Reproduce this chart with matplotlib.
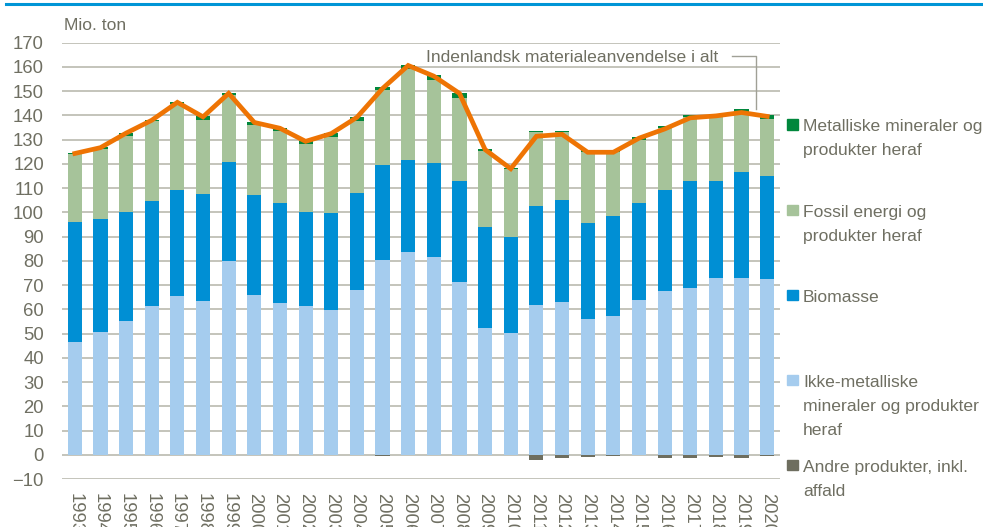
import matplotlib
matplotlib.use("Agg")
import matplotlib.pyplot as plt
import numpy as np
from matplotlib.patches import Rectangle
from matplotlib.lines import Line2D

years = [str(y) for y in range(1993, 2021)]
ikke_metal = [46.7, 50.6, 55.1, 61.5, 65.6, 63.5, 80.0, 66.1, 62.8, 61.2, 59.8, 67.8, 80.2, 83.7,
              81.4, 71.4, 52.1, 50.1, 61.9, 63.0, 56.1, 57.2, 63.9, 67.7, 68.9, 72.9, 72.9, 72.6]
biomasse = [49.5, 46.5, 44.9, 43.2, 43.7, 43.9, 40.6, 41.0, 41.2, 38.8, 39.8, 40.2, 39.2, 38.0,
            38.8, 41.6, 41.8, 39.6, 40.9, 42.3, 39.7, 41.5, 39.9, 41.6, 43.9, 40.1, 43.6, 42.6]
fossil = [27.8, 28.9, 31.7, 32.8, 35.4, 30.8, 27.8, 28.8, 29.4, 28.2, 31.7, 29.8, 30.9, 37.5,
          34.5, 34.2, 31.6, 28.0, 30.2, 27.7, 29.2, 26.3, 26.0, 25.5, 26.5, 26.6, 25.0, 23.5]
metal = [0.5, 0.8, 1.1, 0.7, 0.9, 1.5, 0.8, 1.5, 1.5, 1.3, 1.3, 1.6, 1.5, 1.6,
         1.8, 2.1, 0.7, 0.6, 0.7, 0.7, 0.8, 0.4, 1.1, 0.8, 0.9, 1.1, 1.2, 1.4]
andre = [-0.2, -0.1, -0.1, -0.2, -0.2, -0.3, -0.1, -0.3, -0.2, -0.2, -0.1, -0.2, -0.7, -0.2,
         -0.3, -0.2, -0.3, -0.3, -2.3, -1.5, -1.0, -0.6, -0.3, -1.2, -1.2, -0.9, -1.5, -0.5]

legend_labels = ["Metalliske mineraler og\nprodukter heraf",
                 "Fossil energi og\nprodukter heraf",
                 "Biomasse",
                 "Ikke-metalliske\nmineraler og produkter\nheraf",
                 "Andre produkter, inkl.\naffald"]
line_label = "Indenlandsk materialeanvendelse i alt"

c_metal = "#00873C"
c_fossil = "#A6C39A"
c_bio = "#008FD4"
c_ikke = "#A5CCEE"
c_andre = "#6E6E5F"
c_line = "#EE7404"
c_text = "#6F6F62"
c_grid = "#BFBFB5"

plt.rcParams['font.family'] = ['Liberation Sans', 'DejaVu Sans']
FS = 12.6

fig = plt.figure(figsize=(9.83, 5.27), dpi=100)
ax = fig.add_axes([62/983, 1-479/527, (780-62)/983, (479-42.7)/527])

x = np.arange(len(years))
w = 0.55
ik = np.array(ikke_metal); bi = np.array(biomasse); fo = np.array(fossil)
me = np.array(metal); an = np.array(andre)
ax.bar(x, ik, w, color=c_ikke, zorder=2)
ax.bar(x, bi, w, bottom=ik, color=c_bio, zorder=2)
ax.bar(x, fo, w, bottom=ik+bi, color=c_fossil, zorder=2)
ax.bar(x, me, w, bottom=ik+bi+fo, color=c_metal, zorder=2)
ax.bar(x, an, w, color=c_andre, zorder=2)
total = ik + bi + fo + me + an
ax.plot(x, total, color=c_line, lw=3.4, zorder=3, solid_joinstyle='miter')

ax.set_xlim(-0.5, len(years)-0.5)
ax.set_ylim(-10, 170)
ax.set_yticks(np.arange(-10, 171, 10))
ax.yaxis.grid(True, color=c_grid, lw=1.3, zorder=0)
ax.set_axisbelow(True)
for s in ax.spines.values():
    s.set_visible(False)
ax.tick_params(axis='y', length=0, pad=13, labelsize=13.3, labelcolor=c_text)
ax.set_xticks(x)
ax.set_xticklabels(years, rotation=-90, va='top', ha='center')
ax.tick_params(axis='x', length=0, pad=10, labelsize=13.3, labelcolor=c_text)

fig.text(64/983, 1-30/527, "Mio. ton", fontsize=FS, color=c_text, va='baseline', ha='left')

# annotation for line
fig.text(718/983, 1-62.5/527, line_label, fontsize=FS, color=c_text, va='baseline', ha='right')
fig.add_artist(Line2D([731.7/983, 755.7/983, 755.7/983], [1-55.7/527, 1-55.7/527, 1-109/527],
                      color="#A0A096", lw=1.0))

# top blue rule
fig.add_artist(Line2D([6/983, 1.0], [1-3.5/527, 1-3.5/527], color="#0095D6", lw=2.2))

# legend
leg_colors = [c_metal, c_fossil, c_bio, c_ikke, c_andre]
leg_base = [131, 216.7, 301.7, 386.7, 471.7]
for col, lab, yb in zip(leg_colors, legend_labels, leg_base):
    fig.add_artist(Rectangle((787/983, 1-(yb-1.5)/527), 10.5/983, 10.5/527, color=col,
                             transform=fig.transFigure))
    for i, ln in enumerate(lab.split("\n")):
        fig.text(803/983, 1-(yb + 24*i)/527, ln, fontsize=FS, color=c_text,
                 va='baseline', ha='left')

fig.savefig("out.png", dpi=100)
